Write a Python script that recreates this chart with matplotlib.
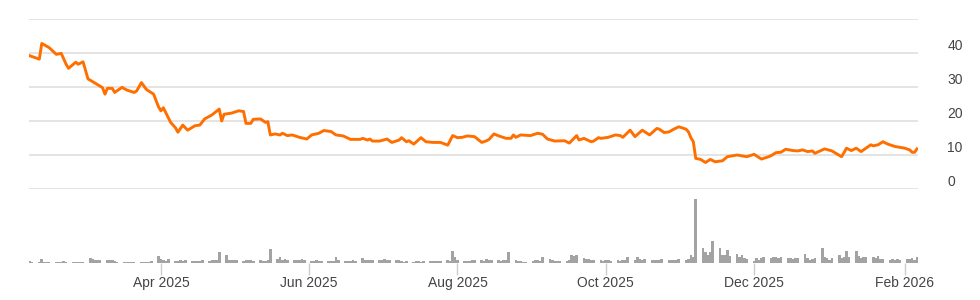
import pandas as pd
import matplotlib.pyplot as plt
import matplotlib.dates as mdates

plt.rcParams['font.family'] = ['Liberation Sans', 'DejaVu Sans']

# closing price (date, price)
price_dates = [
    '2025-02-06', '2025-02-10', '2025-02-11', '2025-02-14', '2025-02-17', '2025-02-19', '2025-02-21', '2025-02-22',
    '2025-02-25', '2025-02-26', '2025-02-28',
    '2025-03-02', '2025-03-05', '2025-03-08', '2025-03-09', '2025-03-10', '2025-03-12', '2025-03-13', '2025-03-16',
    '2025-03-18', '2025-03-21', '2025-03-22', '2025-03-24', '2025-03-26', '2025-03-29', '2025-03-31',
    '2025-04-01', '2025-04-02', '2025-04-05', '2025-04-07', '2025-04-08', '2025-04-10', '2025-04-12', '2025-04-15',
    '2025-04-17', '2025-04-19', '2025-04-22', '2025-04-25', '2025-04-26', '2025-04-27', '2025-04-30',
    '2025-05-03', '2025-05-05', '2025-05-06', '2025-05-08', '2025-05-09', '2025-05-12', '2025-05-14', '2025-05-15',
    '2025-05-16', '2025-05-18', '2025-05-20', '2025-05-21', '2025-05-23', '2025-05-25', '2025-05-28', '2025-05-31',
    '2025-06-02', '2025-06-05', '2025-06-07', '2025-06-10', '2025-06-12', '2025-06-15', '2025-06-18', '2025-06-22',
    '2025-06-23', '2025-06-25', '2025-06-26', '2025-06-27', '2025-06-30',
    '2025-07-03', '2025-07-05', '2025-07-08', '2025-07-09', '2025-07-11', '2025-07-12', '2025-07-14', '2025-07-17',
    '2025-07-19', '2025-07-22', '2025-07-25', '2025-07-28', '2025-07-30',
    '2025-08-01', '2025-08-03', '2025-08-05', '2025-08-08', '2025-08-11', '2025-08-13', '2025-08-14', '2025-08-16',
    '2025-08-18', '2025-08-21', '2025-08-23', '2025-08-24', '2025-08-25', '2025-08-27', '2025-08-31',
    '2025-09-03', '2025-09-05', '2025-09-07', '2025-09-10', '2025-09-14', '2025-09-16', '2025-09-19', '2025-09-20',
    '2025-09-22', '2025-09-25', '2025-09-26', '2025-09-28', '2025-09-29',
    '2025-10-02', '2025-10-05', '2025-10-07', '2025-10-08', '2025-10-11', '2025-10-13', '2025-10-16', '2025-10-19',
    '2025-10-22', '2025-10-23', '2025-10-25', '2025-10-27', '2025-10-29', '2025-10-31',
    '2025-11-03', '2025-11-04', '2025-11-05', '2025-11-06', '2025-11-07', '2025-11-09', '2025-11-11', '2025-11-13',
    '2025-11-15', '2025-11-18', '2025-11-20', '2025-11-24', '2025-11-28',
    '2025-12-01', '2025-12-04', '2025-12-07', '2025-12-08', '2025-12-10', '2025-12-12', '2025-12-14', '2025-12-17',
    '2025-12-19', '2025-12-21', '2025-12-23', '2025-12-25', '2025-12-26', '2025-12-30',
    '2026-01-02', '2026-01-06', '2026-01-08', '2026-01-10', '2026-01-12', '2026-01-14', '2026-01-16', '2026-01-18',
    '2026-01-19', '2026-01-21', '2026-01-23', '2026-01-25', '2026-01-28',
    '2026-02-01', '2026-02-03', '2026-02-04', '2026-02-05', '2026-02-06',
]
price = [
    39.2, 38.2, 42.8, 41.6, 39.6, 39.9, 36.7, 35.5, 37.3, 36.7, 37.4,
    32.4, 31.1, 29.8, 27.9, 29.6, 29.6, 28.4, 29.9, 29.1, 28.4, 28.8, 31.3, 29.3, 27.9, 24.2,
    23.0, 23.9, 19.6, 18.0, 16.7, 18.8, 17.3, 18.6, 18.8, 20.6, 21.8, 23.5, 20.0, 22.0, 22.3,
    23.0, 22.8, 19.3, 19.3, 20.5, 20.6, 19.6, 19.8, 15.9, 16.2, 15.9, 16.4, 15.7, 15.9, 15.2, 14.7,
    15.9, 16.4, 17.2, 16.9, 15.9, 15.6, 14.6, 14.6, 14.9, 14.4, 14.7, 14.1, 14.1,
    14.7, 13.7, 14.4, 15.1, 13.9, 14.2, 13.2, 15.1, 13.9, 13.7, 13.7, 12.9, 15.7,
    15.1, 15.2, 15.6, 15.4, 13.7, 14.2, 14.6, 16.2, 15.6, 14.9, 14.9, 15.9, 15.2, 15.9, 15.7,
    16.4, 16.1, 14.7, 14.1, 14.2, 13.5, 15.7, 14.4, 14.9, 13.9, 14.1, 15.1, 14.9,
    15.2, 15.9, 15.7, 15.2, 17.3, 15.4, 17.3, 15.9, 17.8, 17.6, 16.6, 16.8, 17.6, 18.3,
    17.6, 16.8, 15.1, 13.9, 9.0, 8.7, 7.8, 8.7, 8.0, 8.3, 9.5, 10.0, 9.5,
    10.2, 8.8, 9.5, 9.8, 10.7, 10.8, 11.7, 11.3, 11.2, 11.5, 11.0, 11.2, 10.5, 11.8,
    11.2, 9.5, 12.0, 11.3, 12.0, 11.0, 12.0, 13.0, 12.7, 13.0, 13.9, 13.2, 12.5,
    12.0, 11.5, 10.8, 10.8, 11.8,
]

# daily volume (thousand shares), one value per business day Feb 6 2025 - Feb 6 2026
volume = [
    # Feb 2025
    150, 120, 130, 370, 110, 140, 100, 120, 130, 110, 150, 120, 100, 130, 110, 140, 120,
    # Mar
    480, 430, 300, 320, 280, 330, 260, 300, 150, 120, 110, 130, 100, 120, 110, 140, 100, 120, 130, 150, 670,
    # Apr
    400, 250, 200, 350, 220, 180, 300, 150, 250, 200, 180, 150, 240, 260, 180, 300, 320, 280, 1100, 800, 300, 280,
    # May
    300, 260, 200, 320, 250, 300, 180, 250, 200, 230, 280, 1400, 350, 600, 300, 350, 280, 330, 300, 250, 350, 300,
    # Jun
    200, 150, 250, 180, 200, 150, 220, 180, 600, 250, 200, 230, 180, 250, 200, 500, 300, 280, 320, 250, 300,
    # Jul
    300, 350, 280, 300, 250, 320, 150, 120, 180, 130, 150, 200, 140, 180, 160, 200, 150, 220, 180, 250, 200, 1200, 600,
    # Aug
    250, 200, 230, 180, 300, 250, 280, 200, 350, 260, 300, 250, 200, 280, 300, 1070, 250, 200, 180, 120, 100,
    # Sep
    150, 250, 300, 200, 600, 350, 250, 180, 200, 150, 180, 250, 800, 700, 780, 500, 400, 350, 300, 250, 300, 200,
    # Oct
    250, 300, 200, 280, 220, 300, 250, 600, 300, 600, 350, 250, 400, 300, 250, 300, 280, 350, 300, 250, 320, 300, 350,
    # Nov
    300, 350, 800, 570, 6300, 1470, 1070, 800, 1070, 2170, 1470, 800, 800, 1330, 700, 900, 570, 800, 470, 400,
    # Dec
    230, 470, 300, 500, 550, 500, 600, 550, 500, 600, 450, 500, 400, 450, 500, 900, 450, 300, 350, 500, 1470, 600, 450,
    # Jan 2026
    300, 500, 800, 450, 600, 1230, 570, 1170, 670, 500, 600, 600, 600, 500, 670, 400, 350, 300, 400, 250, 350, 300,
    # Feb 2026
    400, 350, 450, 300, 600,
]
volume_dates = pd.bdate_range('2025-02-06', '2026-02-06')

y_ticks = [0, 10, 20, 30, 40, 50]
y_labels = ['0', '10', '20', '30', '40', '']

fig = plt.figure(figsize=(9.8, 3.0), dpi=100)
ax = fig.add_axes([29 / 980, 1 - 189 / 300, 889 / 980, 170 / 300])
axv = fig.add_axes([29 / 980, 1 - 263 / 300, 889 / 980, 68 / 300], sharex=ax)

# price panel
ax.plot(pd.to_datetime(price_dates), price, color='#ff6f00', lw=2.1, solid_joinstyle='round', zorder=3)
ax.set_ylim(0, 50)
ax.set_yticks(y_ticks)
ax.set_yticklabels(y_labels)
ax.yaxis.tick_right()
ax.tick_params(axis='y', length=0, pad=21, labelsize=10, labelcolor='#444444')
for lbl in ax.get_yticklabels():
    lbl.set_va('bottom')
ax.tick_params(axis='x', bottom=False, labelbottom=False)
ax.grid(axis='y', color='#dddddd', lw=1.1)
ax.set_axisbelow(True)
for s in ax.spines.values():
    s.set_visible(False)

# volume panel
axv.bar(volume_dates, volume, width=1.1, color='#a3a3a3')
axv.set_ylim(0, 6700)
axv.set_yticks([])
for s in axv.spines.values():
    s.set_visible(False)
axv.xaxis.set_major_locator(mdates.MonthLocator(bymonth=[2, 4, 6, 8, 10, 12]))
axv.xaxis.set_major_formatter(mdates.DateFormatter('%b %Y'))
axv.tick_params(axis='x', length=8.6, width=1, color='#cccccc', pad=1, labelsize=10, labelcolor='#444444')

ax.set_xlim(pd.Timestamp('2025-02-05 18:00'), pd.Timestamp('2026-02-06 10:00'))

fig.savefig('out.png', dpi=100)
